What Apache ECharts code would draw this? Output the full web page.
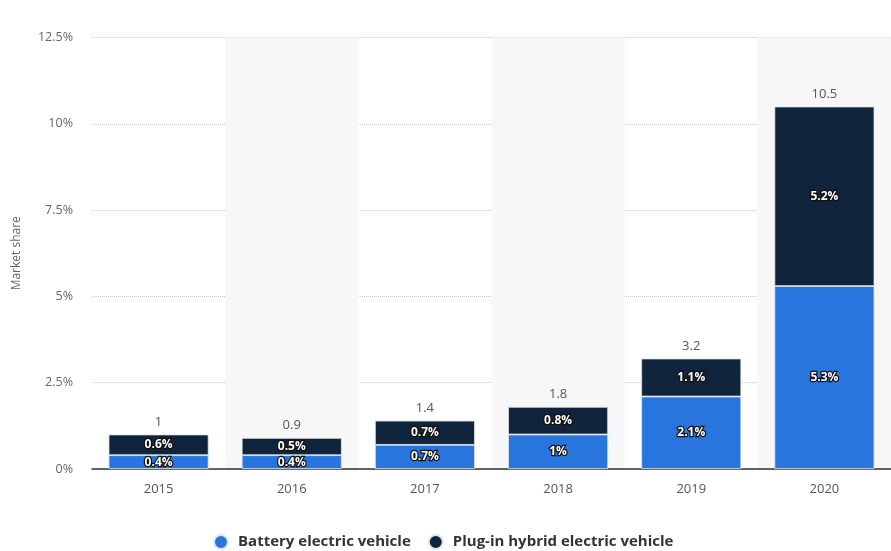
<!DOCTYPE html>
<html>
<head>
<meta charset="utf-8">
<script src="https://cdn.jsdelivr.net/npm/echarts@6/dist/echarts.min.js"></script>
<style>
  html, body { margin: 0; padding: 0; background: #fff; }
  #chart { width: 891px; height: 551px; }
</style>
</head>
<body>
<div id="chart"></div>
<script>
// Electric vehicle market share by year (percent)
const years = ['2015', '2016', '2017', '2018', '2019', '2020'];
const batteryShare = [0.4, 0.4, 0.7, 1.0, 2.1, 5.3];
const plugInHybridShare = [0.6, 0.5, 0.7, 0.8, 1.1, 5.2];
const totalShare = [1, 0.9, 1.4, 1.8, 3.2, 10.5];
const yTicks = ['0%', '2.5%', '5%', '7.5%', '10%', '12.5%'];

const FONT = '"Open Sans", "DejaVu Sans", sans-serif';

const insideLabel = {
  show: true,
  position: 'inside',
  color: '#fff',
  fontFamily: FONT,
  fontWeight: 'bold',
  fontSize: 12,
  textBorderColor: '#111',
  textBorderWidth: 2.5,
  formatter: p => p.value + '%'
};

const chart = echarts.init(document.getElementById('chart'), null, { renderer: 'canvas' });

chart.setOption({
  animation: false,
  grid: { left: 92, right: 0, top: 37.5, bottom: 82 },
  legend: {
    data: ['Battery electric vehicle', 'Plug-in hybrid electric vehicle'],
    top: 529,
    left: 208,
    icon: 'circle',
    itemWidth: 24,
    itemHeight: 14,
    itemGap: 17,
    textStyle: { fontFamily: FONT, fontSize: 15, fontWeight: 'bold', color: '#333' }
  },
  xAxis: {
    type: 'category',
    data: years,
    axisLine: { lineStyle: { color: '#333', width: 1.5 } },
    axisTick: { show: false },
    axisLabel: { color: '#555', fontFamily: FONT, fontSize: 13, margin: 14 },
    splitArea: { show: true, areaStyle: { color: ['rgba(255,255,255,0)', '#f7f7f7'] } }
  },
  yAxis: {
    type: 'value',
    min: 0,
    max: 12.5,
    interval: 2.5,
    name: 'Market share',
    nameLocation: 'middle',
    nameGap: 69,
    nameTextStyle: { color: '#666', fontFamily: FONT, fontSize: 12 },
    axisLine: { show: false },
    axisTick: { show: false },
    axisLabel: {
      color: '#666', fontFamily: FONT, fontSize: 12.5, margin: 19,
      formatter: v => yTicks[Math.round(v / 2.5)]
    },
    splitLine: { lineStyle: { color: '#c8c8c8', type: [1, 1], width: 1 } }
  },
  series: [
    {
      name: 'Battery electric vehicle',
      type: 'bar',
      stack: 'share',
      barWidth: 100,
      data: batteryShare,
      itemStyle: { color: '#2876dd', borderColor: '#dfe6ee', borderWidth: 0.8 },
      label: insideLabel
    },
    {
      name: 'Plug-in hybrid electric vehicle',
      type: 'bar',
      stack: 'share',
      barWidth: 100,
      data: plugInHybridShare,
      itemStyle: { color: '#10243b', borderColor: '#dfe6ee', borderWidth: 0.8 },
      label: insideLabel
    },
    {
      name: 'Total',
      type: 'bar',
      stack: 'share',
      barWidth: 100,
      data: years.map(() => 0),
      itemStyle: { color: 'rgba(0,0,0,0)' },
      label: {
        show: true,
        position: 'top',
        distance: 6,
        color: '#555',
        fontFamily: FONT,
        fontSize: 13,
        formatter: p => String(totalShare[p.dataIndex])
      },
      silent: true
    }
  ]
});
</script>
</body>
</html>
